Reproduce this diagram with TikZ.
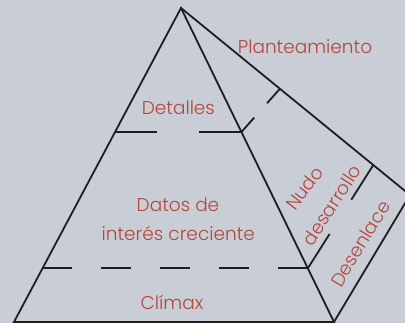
\documentclass[tikz,border=0pt]{standalone}
\usepackage{fontspec}
\setmainfont{Poppins Light}
\usetikzlibrary{calc}
\definecolor{bg}{RGB}{201,205,213}
\definecolor{txt}{RGB}{180,70,58}
\definecolor{ln}{RGB}{30,30,30}
\begin{document}
\begin{tikzpicture}[x=1pt,y=-1pt,
  edge/.style={draw=ln,line width=1.8pt},
  lbl/.style={text=txt,inner sep=0pt,font=\fontsize{18.5}{22}\selectfont}]
\useasboundingbox (0,0) rectangle (405,323);
\fill[bg] (0,0) rectangle (405,323);
\clip (0,0) rectangle (405,323);
\coordinate (A) at (181,8);
\coordinate (L) at (14,322);
\coordinate (R) at (334,322);
\coordinate (O) at (410,195);
\coordinate (DL) at ($(A)!0.3949!(L)$);
\coordinate (DR) at ($(A)!0.3949!(R)$);
\coordinate (CL) at ($(A)!0.829!(L)$);
\coordinate (CR) at ($(A)!0.829!(R)$);
\coordinate (P) at ($(A)!0.432!(O)$);
\coordinate (Q) at ($(A)!0.8397!(O)$);
\draw[edge] (L) -- (A) -- (R) -- cycle;
\draw[edge] (A) -- (O) -- (R);
\draw[edge,dash pattern=on 42.1pt off 42.1pt] (DL) -- (DR);
\draw[edge,dash pattern=on 29.47pt off 29.47pt] (CL) -- (CR);
\draw[edge,dash pattern=on 19.3pt off 19.3pt] (DR) -- (P);
\draw[edge,dash pattern=on 40.6pt off 40.6pt] (CR) -- (Q);
\node[lbl,anchor=base] (plan) at (305,53.3) {Planteamiento};
\node[lbl,anchor=base] (det) at (178.4,115) {Detalles};
\node[lbl,anchor=base] (dat1) at (178,211.7) {Datos de};
\node[lbl,anchor=base] (dat2) at (178.3,240.7) {interés creciente};
\node[lbl,anchor=base] (cli) at (172,310) {Clímax};
\node[lbl,rotate=53] (nudo) at (304.5,188) {Nudo};
\node[lbl,rotate=57] (desa) at (331.7,205) {desarrollo};
\node[lbl,rotate=59] (desen) at (360.3,244) {Desenlace};
\end{tikzpicture}
\end{document}
